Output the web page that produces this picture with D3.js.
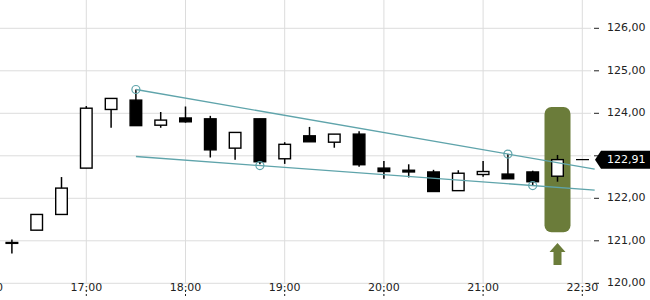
<!DOCTYPE html>
<html>
<head>
<meta charset="utf-8">
<script src="https://cdn.jsdelivr.net/npm/d3@7"></script>
<style>
  body { margin: 0; background: #fff; }
  svg { display: block; font-family: "DejaVu Sans", sans-serif; }
</style>
</head>
<body>
<svg id="chart" width="650" height="300"></svg>
<script>
// 15 minute candles, index 0 = 16:15
const opens  = [120.96, 121.25, 121.62, 122.71, 124.09, 124.31, 123.72, 123.89, 123.87, 123.18, 123.87, 122.93, 123.47, 123.32, 123.51, 122.71, 122.66, 122.62, 122.18, 122.56, 122.57, 122.62, 122.52];
const highs  = [121.03, 121.62, 122.50, 124.17, 124.35, 124.56, 124.03, 124.16, 123.94, 123.55, 123.87, 123.32, 123.68, 123.51, 123.58, 122.88, 122.80, 122.67, 122.66, 122.88, 123.04, 122.65, 123.02];
const lows   = [120.70, 121.25, 121.62, 122.71, 123.66, 123.71, 123.66, 123.78, 122.96, 122.91, 122.80, 122.81, 123.33, 123.19, 122.74, 122.46, 122.49, 122.16, 122.18, 122.51, 122.46, 122.31, 122.39];
const closes = [120.94, 121.62, 122.24, 124.12, 124.35, 123.71, 123.84, 123.80, 123.14, 123.55, 122.86, 123.27, 123.33, 123.51, 122.79, 122.63, 122.62, 122.16, 122.59, 122.63, 122.46, 122.39, 122.91];

const timeTickIdx = [-1, 3, 7, 11, 15, 19, 23];
const timeTickLabels = ["16:00", "17:00", "18:00", "19:00", "20:00", "21:00", "22:30"];
const priceTicks = [120, 121, 122, 123, 124, 125, 126];

// swing points used by the trend lines
const pivots = [
  { i: 5,  p: 124.56 },
  { i: 10, p: 122.77 },
  { i: 20, p: 123.04 },
  { i: 21, p: 122.30 }
];
// [from pivot, to pivot, start index, end index]
const trendLines = [
  [0, 2, 5, 23.5],
  [1, 3, 5, 23.5]
];

const signalIdx = 22;
const signalTop = 124.15;
const signalBottom = 121.2;
const arrowTop = 120.95;

const svg = d3.select("#chart");
const x = d3.scaleLinear().domain([0, 23]).range([11.9, 582.3]);
const y = d3.scaleLinear().domain([120, 126]).range([283.3, 28.3]);
const fmt = v => d3.format(".2f")(v).replace(".", ",");

const gridColor = "#dcdcdc";
const teal = "#5fa4ab";
const olive = "#6b7c3a";

// grid
svg.append("g").selectAll("line")
  .data(priceTicks)
  .join("line")
    .attr("x1", 0).attr("x2", 591)
    .attr("y1", d => y(d)).attr("y2", d => y(d))
    .attr("stroke", gridColor);

svg.append("g").selectAll("line")
  .data(timeTickIdx)
  .join("line")
    .attr("x1", d => x(d)).attr("x2", d => x(d))
    .attr("y1", 0).attr("y2", 284)
    .attr("stroke", gridColor);

// time axis
const tAxis = svg.append("g");
tAxis.selectAll("line")
  .data(timeTickIdx)
  .join("line")
    .attr("x1", d => x(d)).attr("x2", d => x(d))
    .attr("y1", 290).attr("y2", 297)
    .attr("stroke", "#222").attr("stroke-dasharray", "2,2");
tAxis.selectAll("text")
  .data(timeTickIdx)
  .join("text")
    .attr("x", d => x(d))
    .attr("y", 288)
    .attr("text-anchor", "middle")
    .attr("dominant-baseline", "middle")
    .attr("font-size", 11)
    .attr("fill", "#222")
    .text((d, i) => timeTickLabels[i]);

// price axis
const pAxis = svg.append("g");
pAxis.selectAll("line")
  .data(priceTicks)
  .join("line")
    .attr("x1", 594).attr("x2", 599)
    .attr("y1", d => y(d)).attr("y2", d => y(d))
    .attr("stroke", "#222");
pAxis.selectAll("text")
  .data(priceTicks)
  .join("text")
    .attr("x", 607)
    .attr("y", d => y(d))
    .attr("dominant-baseline", "middle")
    .attr("font-size", 11)
    .attr("fill", "#222")
    .text(d => fmt(d));

// signal bar
svg.append("rect")
  .attr("x", x(signalIdx) - 13)
  .attr("width", 26)
  .attr("y", y(signalTop))
  .attr("height", y(signalBottom) - y(signalTop))
  .attr("rx", 7)
  .attr("fill", olive);

// up arrow under the signal
const ax = x(signalIdx), ay = y(arrowTop);
svg.append("path")
  .attr("d", `M${ax},${ay} l8,9 h-4 v13 h-8 v-13 h-4 z`)
  .attr("fill", olive);

// candles
const candles = svg.append("g").selectAll("g")
  .data(opens.map((o, i) => ({ i, o, h: highs[i], l: lows[i], c: closes[i] })))
  .join("g");

candles.append("line")
  .attr("x1", d => x(d.i)).attr("x2", d => x(d.i))
  .attr("y1", d => y(d.h)).attr("y2", d => y(d.l))
  .attr("stroke", "#000").attr("stroke-width", 1.5);

candles.append("rect")
  .attr("x", d => x(d.i) - 5.8)
  .attr("width", 11.6)
  .attr("y", d => y(Math.max(d.o, d.c)))
  .attr("height", d => Math.max(0.6, Math.abs(y(d.o) - y(d.c))))
  .attr("fill", d => d.c >= d.o ? "#fff" : "#000")
  .attr("stroke", "#000")
  .attr("stroke-width", 1.4);

// trend lines
svg.append("g").selectAll("line")
  .data(trendLines)
  .join("line")
    .each(function(t) {
      const a = pivots[t[0]], b = pivots[t[1]];
      const slope = (b.p - a.p) / (b.i - a.i);
      d3.select(this)
        .attr("x1", x(t[2])).attr("y1", y(a.p + (t[2] - a.i) * slope))
        .attr("x2", x(t[3])).attr("y2", y(a.p + (t[3] - a.i) * slope));
    })
    .attr("stroke", teal)
    .attr("stroke-width", 1.3);

svg.append("g").selectAll("circle")
  .data(pivots)
  .join("circle")
    .attr("cx", d => x(d.i))
    .attr("cy", d => y(d.p))
    .attr("r", 4)
    .attr("fill", "none")
    .attr("stroke", teal)
    .attr("stroke-width", 1.2);

// current price marker
const last = closes[closes.length - 1];
const ly = y(last);
svg.append("line")
  .attr("x1", 576).attr("x2", 589)
  .attr("y1", ly).attr("y2", ly)
  .attr("stroke", "#000").attr("stroke-width", 1.2);
svg.append("path")
  .attr("d", `M595,${ly} L601,${ly - 9} H650 V${ly + 9} H601 Z`)
  .attr("fill", "#000");
svg.append("text")
  .attr("x", 607)
  .attr("y", ly)
  .attr("dominant-baseline", "middle")
  .attr("font-size", 11)
  .attr("fill", "#fff")
  .text(fmt(last));
</script>
</body>
</html>
